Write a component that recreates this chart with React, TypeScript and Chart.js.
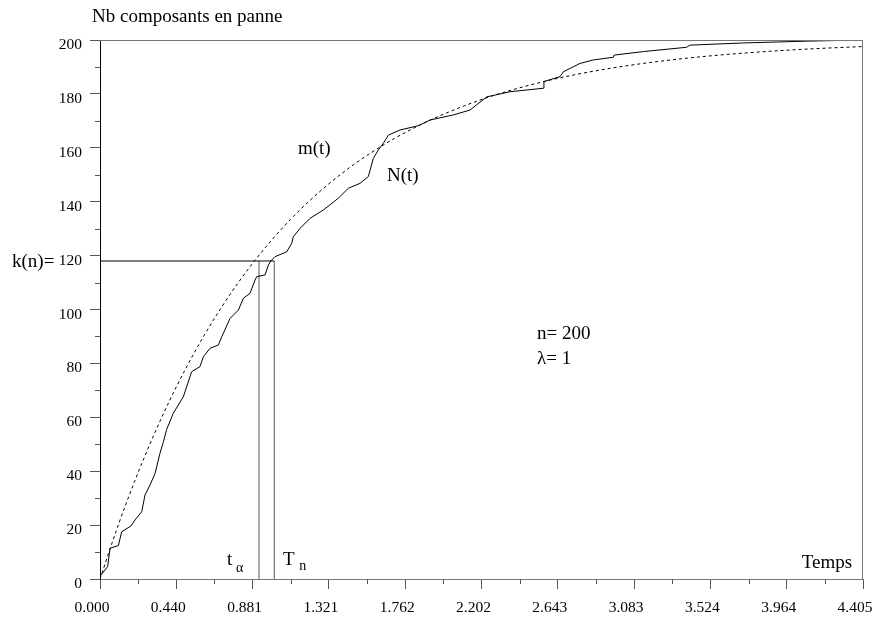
import React, { useEffect, useRef } from "react";
import { Chart, registerables } from "chart.js";

Chart.register(...registerables);

// ---- Data ----
const xTickValues = [0, 0.4405, 0.881, 1.3215, 1.762, 2.2025, 2.643, 3.0835, 3.524, 3.9645, 4.405];
const xTickLabels = ["0.000", "0.440", "0.881", "1.321", "1.762", "2.202", "2.643", "3.083", "3.524", "3.964", "4.405"];
const yTickValues = [0, 20, 40, 60, 80, 100, 120, 140, 160, 180, 200];

// Empirical counting process N(t)
const nTimes = [
  0, 0.044, 0.058, 0.106, 0.125, 0.179, 0.202, 0.241, 0.26, 0.289, 0.318, 0.346, 0.366, 0.385,
  0.423, 0.481, 0.529, 0.577, 0.597, 0.635, 0.683, 0.703, 0.751, 0.799, 0.828, 0.866, 0.895,
  0.905, 0.953, 0.972, 0.986, 1.01, 1.078, 1.107, 1.116, 1.155, 1.212, 1.289, 1.376, 1.434,
  1.501, 1.549, 1.578, 1.607, 1.636, 1.665, 1.732, 1.838, 1.905, 2.04, 2.136, 2.233, 2.367,
  2.56, 2.563, 2.656, 2.675, 2.771, 2.848, 2.964, 2.968, 3.137, 3.387, 3.406, 3.714, 4.099, 4.405,
];
const nCounts = [
  1, 4.6, 11.4, 12.4, 17.5, 19.7, 21.9, 25, 31.2, 34.9, 39.2, 46.6, 50.9, 55.5,
  61.5, 67.6, 76.9, 78.8, 82.5, 85.6, 86.8, 89.9, 96.7, 99.8, 104.2, 106, 110.9,
  112.2, 112.8, 116.5, 118, 119.6, 121.4, 124.6, 127, 130.1, 133.8, 136.9, 141.3, 145,
  146.8, 149.3, 156.1, 159.2, 161.7, 164.7, 166.6, 168.2, 170.3, 172.2, 174, 178.9, 180.8,
  182.1, 184.6, 186.4, 188.2, 191.3, 192.6, 193.6, 194.4, 195.7, 197.3, 198.1, 198.9, 199.6, 200,
];

// Mean function m(t)
const mTimes = [0, 0.1, 0.2, 0.3, 0.4, 0.5, 0.6, 0.7, 0.8, 0.9, 1.0, 1.1, 1.2, 1.3, 1.4, 1.5, 1.6, 1.7, 1.8, 1.9, 2.0, 2.2, 2.4, 2.6, 2.8, 3.0, 3.2, 3.4, 3.6, 3.8, 4.0, 4.2, 4.405];
const mValues = [0, 19.03, 36.25, 51.84, 65.94, 78.69, 90.24, 100.68, 110.13, 118.69, 126.42, 133.43, 139.76, 145.49, 150.68, 155.37, 159.62, 163.47, 166.94, 170.09, 172.93, 177.84, 181.86, 185.14, 187.84, 190.04, 191.85, 193.33, 194.54, 195.53, 196.34, 197.0, 197.56];

const kValue = 118;
const tAlpha = 0.918;
const tN = 1.006;

const FONT = '"Liberation Serif", "Times New Roman", Times, serif';

const minorTicksPlugin = {
  id: "minorTicksAndFrame",
  afterDraw(chart: any) {
    const ctx = chart.ctx;
    const xs = chart.scales.x;
    const ys = chart.scales.y;
    const { left, right, top, bottom } = chart.chartArea;
    ctx.save();
    ctx.lineWidth = 1;
    ctx.strokeStyle = "#555";
    for (let i = 0; i < xTickValues.length - 1; i++) {
      const v = (xTickValues[i] + xTickValues[i + 1]) / 2;
      const px = Math.round(xs.getPixelForValue(v)) + 0.5;
      ctx.beginPath();
      ctx.moveTo(px, bottom);
      ctx.lineTo(px, bottom + 5);
      ctx.stroke();
    }
    for (let i = 0; i < yTickValues.length - 1; i++) {
      const v = (yTickValues[i] + yTickValues[i + 1]) / 2;
      const py = Math.round(ys.getPixelForValue(v)) + 0.5;
      ctx.beginPath();
      ctx.moveTo(left, py);
      ctx.lineTo(left - 5, py);
      ctx.stroke();
    }
    // top and right frame
    ctx.strokeStyle = "#777";
    ctx.beginPath();
    ctx.moveTo(left, Math.round(top) + 0.5);
    ctx.lineTo(Math.round(right) - 0.5, Math.round(top) + 0.5);
    ctx.lineTo(Math.round(right) - 0.5, bottom);
    ctx.stroke();

    // text annotations
    ctx.fillStyle = "#000";
    ctx.textBaseline = "alphabetic";
    ctx.textAlign = "left";
    ctx.font = `19px ${FONT}`;
    ctx.fillText("Nb composants en panne", 92, 22);
    ctx.fillText("k(n)=", 12, ys.getPixelForValue(kValue) + 6);
    ctx.fillText("m(t)", xs.getPixelForValue(1.143), ys.getPixelForValue(157.7));
    ctx.fillText("N(t)", xs.getPixelForValue(1.657), ys.getPixelForValue(147.5));
    ctx.fillText("n= 200", xs.getPixelForValue(2.523), ys.getPixelForValue(88.9));
    ctx.fillText("λ= 1", xs.getPixelForValue(2.523), ys.getPixelForValue(79.6));
    ctx.textAlign = "right";
    ctx.fillText("Temps", xs.getPixelForValue(4.342), ys.getPixelForValue(4.0));
    ctx.textAlign = "left";
    ctx.fillText("t", xs.getPixelForValue(0.733), ys.getPixelForValue(5.2));
    ctx.fillText("T", xs.getPixelForValue(1.057), ys.getPixelForValue(5.2));
    ctx.font = `14px ${FONT}`;
    ctx.fillText("α", xs.getPixelForValue(0.785), ys.getPixelForValue(2.6));
    ctx.fillText("n", xs.getPixelForValue(1.15), ys.getPixelForValue(3.3));
    ctx.restore();
  },
};

export default function App() {
  const ref = useRef<HTMLCanvasElement | null>(null);
  useEffect(() => {
    if (!ref.current) return;
    const nData = nTimes.map((t, i) => ({ x: t, y: nCounts[i] }));
    const mData = mTimes.map((t, i) => ({ x: t, y: mValues[i] }));
    const chart = new Chart(ref.current, {
      type: "line",
      data: {
        datasets: [
          {
            label: "N(t)",
            data: nData,
            borderColor: "#000",
            borderWidth: 1,
            pointRadius: 0,
            tension: 0,
          },
          {
            label: "m(t)",
            data: mData,
            borderColor: "#000",
            borderWidth: 1,
            borderDash: [3, 3],
            pointRadius: 0,
            cubicInterpolationMode: "monotone",
          },
          {
            label: "k(n)",
            data: [
              { x: 0, y: kValue },
              { x: tN, y: kValue },
            ],
            borderColor: "#000",
            borderWidth: 1,
            pointRadius: 0,
          },
          {
            label: "Tn",
            data: [
              { x: tN, y: 0 },
              { x: tN, y: kValue },
            ],
            borderColor: "#555",
            borderWidth: 1,
            pointRadius: 0,
          },
          {
            label: "talpha",
            data: [
              { x: tAlpha, y: 0 },
              { x: tAlpha, y: kValue },
            ],
            borderColor: "#555",
            borderWidth: 1,
            pointRadius: 0,
          },
        ],
      } as any,
      options: {
        animation: false,
        responsive: false,
        maintainAspectRatio: false,
        devicePixelRatio: 1,
        layout: { padding: { top: 40, right: 14, left: 0, bottom: 0 } },
        plugins: { legend: { display: false }, tooltip: { enabled: false }, title: { display: false } },
        scales: {
          x: {
            type: "linear",
            min: 0,
            max: 4.405,
            afterBuildTicks: (s: any) => {
              s.ticks = xTickValues.map((v) => ({ value: v }));
            },
            afterFit: (s: any) => {
              s.height = 42;
              s.paddingLeft = 0;
              s.paddingRight = 0;
            },
            ticks: {
              autoSkip: false,
              maxRotation: 0,
              padding: 10,
              labelOffset: -8,
              color: "#000",
              font: { family: FONT, size: 15.5 },
              callback: (_v: any, i: number) => xTickLabels[i],
            },
            grid: { drawOnChartArea: false, drawTicks: true, tickLength: 10, tickColor: "#555" },
            border: { display: true, color: "#777" },
          },
          y: {
            type: "linear",
            min: 0,
            max: 200,
            afterBuildTicks: (s: any) => {
              s.ticks = yTickValues.map((v) => ({ value: v }));
            },
            afterFit: (s: any) => {
              s.width = 100;
              s.paddingTop = 0;
              s.paddingBottom = 0;
            },
            ticks: {
              autoSkip: false,
              padding: 8,
              labelOffset: 5,
              color: "#000",
              font: { family: FONT, size: 15.5 },
              callback: (v: any) => String(v),
            },
            grid: { drawOnChartArea: false, drawTicks: true, tickLength: 10, tickColor: "#555" },
            border: { display: true, color: "#000" },
          },
        },
      } as any,
      plugins: [minorTicksPlugin],
    });
    return () => chart.destroy();
  }, []);
  return (
    <div style={{ position: "absolute", left: 0, top: 0, width: 877, height: 621, background: "#fff" }}>
      <canvas ref={ref} width={877} height={621} style={{ display: "block" }} />
    </div>
  );
}
